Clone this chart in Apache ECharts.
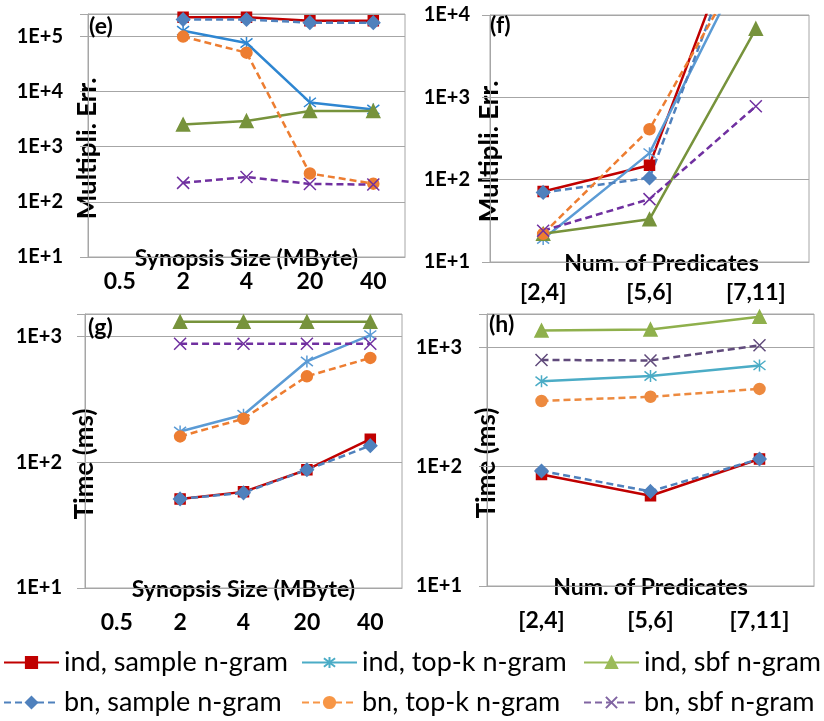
<!DOCTYPE html>
<html>
<head>
<meta charset="utf-8">
<script src="https://cdn.jsdelivr.net/npm/echarts@6/dist/echarts.min.js"></script>
<style>
  html, body { margin: 0; padding: 0; background: #fff; }
  #chart { width: 824px; height: 721px; }
</style>
</head>
<body>
<div id="chart"></div>
<script>
var sizeCats = ['0.5', '2', '4', '20', '40'];
var predCats = ['[2,4]', '[5,6]', '[7,11]'];

// (e) multiplicative error vs synopsis size (nothing plotted at 0.5)
var errSizeIndSample = [null, 220000, 220000, 190000, 190000];
var errSizeIndTopk   = [null, 125000, 75000, 6300, 4700];
var errSizeIndSbf    = [null, 2500, 2900, 4400, 4400];
var errSizeBnSample  = [null, 200000, 200000, 175000, 175000];
var errSizeBnTopk    = [null, 98000, 50000, 325, 213];
var errSizeBnSbf     = [null, 220, 280, 210, 205];

// (f) multiplicative error vs number of predicates (last points run off the top)
var errPredIndSample = [72, 150, 400000];
var errPredIndTopk   = [19, 210, 78000];
var errPredIndSbf    = [22, 33, 6800];
var errPredBnSample  = [70, 105, 280000];
var errPredBnTopk    = [22, 410, 76000];
var errPredBnSbf     = [24, 58, 780];

// (g) time vs synopsis size
var timeSizeIndSample = [null, 51, 58, 87, 152];
var timeSizeIndTopk   = [null, 175, 238, 630, 1020];
var timeSizeIndSbf    = [null, 1300, 1300, 1300, 1300];
var timeSizeBnSample  = [null, 51, 57, 87, 135];
var timeSizeBnTopk    = [null, 160, 221, 480, 672];
var timeSizeBnSbf     = [null, 870, 870, 870, 870];

// (h) time vs number of predicates
var timePredIndSample = [86, 57, 116];
var timePredIndTopk   = [520, 575, 705];
var timePredIndSbf    = [1380, 1410, 1800];
var timePredBnSample  = [92, 62, 116];
var timePredBnTopk    = [355, 385, 448];
var timePredBnSbf     = [783, 775, 1040];

var names = ['ind, sample n-gram', 'ind, top-k n-gram', 'ind, sbf n-gram',
             'bn, sample n-gram', 'bn, top-k n-gram', 'bn, sbf n-gram'];

var FONT = 'Lato';
var GRAY = '#a6a6a6';
var ASTER = 'path://M0,0L10,10M10,0L0,10M5,-1.5L5,11.5';
var CROSS = 'path://M0,0L10,10M10,0L0,10';

var chart = echarts.init(document.getElementById('chart'));

function logLabel(v) {
    var e = Math.log10(v);
    if (Math.abs(e - Math.round(e)) > 1e-6) return '';
    return '1E+' + Math.round(e);
}

function xAxis(gi, cats, name, margin, pad) {
    return {
        type: 'category', gridIndex: gi, data: cats,
        axisLine: { show: true, lineStyle: { color: GRAY } },
        axisTick: { show: false },
        axisLabel: { color: '#000', fontFamily: FONT, fontWeight: 'bold', fontSize: 23, margin: margin },
        name: name, nameLocation: 'middle', nameGap: 2, nameMoveOverlap: false,
        nameTextStyle: { color: '#000', fontFamily: FONT, fontWeight: 'bold', fontSize: 23,
                         verticalAlign: 'middle', padding: pad || 0 }
    };
}

function yAxis(gi, max, name, margin) {
    return {
        type: 'log', gridIndex: gi, min: 10, max: max,
        axisLine: { show: true, lineStyle: { color: GRAY } },
        axisTick: { show: true, length: 8, lineStyle: { color: GRAY } },
        splitLine: { show: true, lineStyle: { color: GRAY } },
        axisLabel: { color: '#000', fontFamily: FONT, fontWeight: 'bold', fontSize: 20,
                     margin: margin, formatter: logLabel },
        name: name, nameLocation: 'middle', nameGap: 0, nameRotate: 90, nameMoveOverlap: false,
        nameTextStyle: { color: '#000', fontFamily: FONT, fontWeight: 'bold', fontSize: 26,
                         verticalAlign: 'middle', padding: [0, 26, 0, 0] }
    };
}

// one set of six series per panel
function panel(gi, data, cols) {
    var styles = [
        { symbol: 'rect', size: 10, dash: 'solid' },
        { symbol: ASTER, size: 12, dash: 'solid' },
        { symbol: 'triangle', size: 13, dash: 'solid' },
        { symbol: 'diamond', size: 13, dash: [7, 4] },
        { symbol: 'circle', size: 11, dash: [7, 4] },
        { symbol: CROSS, size: 12, dash: [7, 4] }
    ];
    return data.map(function (d, i) {
        var s = styles[i];
        return {
            name: names[i], type: 'line', xAxisIndex: gi, yAxisIndex: gi,
            data: d, symbol: s.symbol, symbolSize: s.size, showSymbol: true,
            clip: true, connectNulls: false,
            lineStyle: { color: cols[i], width: 2.5, type: s.dash },
            itemStyle: { color: cols[i], borderColor: cols[i], borderWidth: 1.5 },
            emphasis: { disabled: true }
        };
    });
}

var colE = ['#c00000', '#2e86d1', '#77933c', '#4f81bd', '#ed7d31', '#7030a0'];
var colF = ['#c00000', '#5b9bd5', '#77933c', '#4f81bd', '#ed7d31', '#7030a0'];
var colG = ['#c00000', '#5b9bd5', '#77933c', '#4f81bd', '#ed7d31', '#7030a0'];
var colH = ['#c00000', '#4bacc6', '#8fb04c', '#4f81bd', '#ed8a3f', '#604a7b'];
var colLegend = ['#c00000', '#4bacc6', '#9bbb59', '#4f81bd', '#f79646', '#8064a2'];

var series = [].concat(
    panel(0, [errSizeIndSample, errSizeIndTopk, errSizeIndSbf, errSizeBnSample, errSizeBnTopk, errSizeBnSbf], colE),
    panel(1, [errPredIndSample, errPredIndTopk, errPredIndSbf, errPredBnSample, errPredBnTopk, errPredBnSbf], colF),
    panel(2, [timeSizeIndSample, timeSizeIndTopk, timeSizeIndSbf, timeSizeBnSample, timeSizeBnTopk, timeSizeBnSbf], colG),
    panel(3, [timePredIndSample, timePredIndTopk, timePredIndSbf, timePredBnSample, timePredBnTopk, timePredBnSbf], colH)
);

var legendPos = [[3, 649], [301, 649], [583, 649], [3, 689], [301, 689], [583, 689]];
var legends = names.map(function (n, i) {
    return {
        left: legendPos[i][0], top: legendPos[i][1], padding: 0,
        itemWidth: 55, itemHeight: 14, itemGap: 0,
        textStyle: { color: '#000', fontFamily: FONT, fontSize: 27 },
        data: [{ name: n, itemStyle: { color: colLegend[i], borderColor: colLegend[i] },
                 lineStyle: { color: colLegend[i] } }]
    };
});

function tag(text, left, top) {
    return { text: text, left: left, top: top, padding: 0,
             textStyle: { color: '#000', fontFamily: FONT, fontWeight: 'bold', fontSize: 23 } };
}

chart.setOption({
    animation: false,
    backgroundColor: '#fff',
    title: [tag('(e)', 89, 15), tag('(f)', 490, 14), tag('(g)', 88, 316), tag('(h)', 489, 313)],
    legend: legends,
    grid: [
        { left: 88, top: 14, width: 317, height: 243, show: true, borderColor: GRAY, borderWidth: 1 },
        { left: 490, top: 15, width: 319, height: 247, show: true, borderColor: GRAY, borderWidth: 1 },
        { left: 85, top: 314, width: 317, height: 274, show: true, borderColor: GRAY, borderWidth: 1 },
        { left: 487, top: 314, width: 327, height: 272, show: true, borderColor: GRAY, borderWidth: 1 }
    ],
    xAxis: [
        xAxis(0, sizeCats, 'Synopsis Size (MByte)', 13),
        xAxis(1, predCats, 'Num. of Predicates', 19, [0, 0, 0, 24]),
        xAxis(2, sizeCats, 'Synopsis Size (MByte)', 23),
        xAxis(3, predCats, 'Num. of Predicates', 23)
    ],
    yAxis: [
        yAxis(0, 251000, 'Multipli. Err.', 25),
        yAxis(1, 10000, 'Multipli. Err.', 20),
        yAxis(2, 1500, 'Time (ms)', 23),
        yAxis(3, 1900, 'Time (ms)', 25)
    ],
    series: series
});
</script>
</body>
</html>
